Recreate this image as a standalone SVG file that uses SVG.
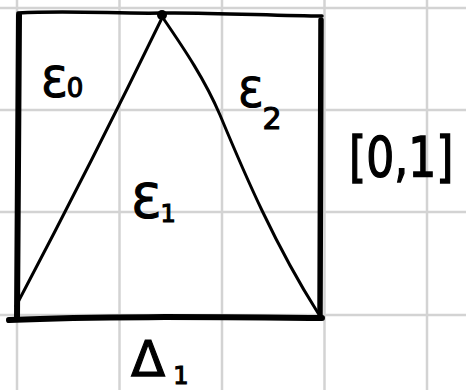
<svg xmlns="http://www.w3.org/2000/svg" width="466" height="390" viewBox="0 0 466 390">
<style>
.grid{stroke:#d3d3d3;stroke-width:2.5;fill:none}
.ink{stroke:#000;fill:none;stroke-linecap:round;stroke-linejoin:round}
.t{font-family:"DejaVu Sans","Liberation Sans",sans-serif;fill:#000;stroke:#000;stroke-width:1.2}
</style>
<rect width="466" height="390" fill="#fff"/>
<g id="grid" class="grid">
<line x1="17" y1="0" x2="17" y2="390"/>
<line x1="119.5" y1="0" x2="119.5" y2="390"/>
<line x1="222" y1="0" x2="222" y2="390"/>
<line x1="324.5" y1="0" x2="324.5" y2="390"/>
<line x1="427" y1="0" x2="427" y2="390"/>
<line x1="0" y1="8" x2="466" y2="8"/>
<line x1="0" y1="110" x2="466" y2="110"/>
<line x1="0" y1="212" x2="466" y2="212"/>
<line x1="0" y1="315" x2="466" y2="315"/>
</g>
<g id="square" class="ink">
<path d="M18,13 C70,10 120,14 162,13 S280,16 322,16" stroke-width="3.5"/>
<path d="M19,15 L17,318" stroke-width="6"/>
<path d="M321,20 L320,316" stroke-width="5.5"/>
<path d="M9,320 C100,316 200,317 322,318" stroke-width="6"/>
</g>
<g id="connectors" class="ink" stroke-width="3">
<path d="M162,18 Q94,158 16,306"/>
<path d="M163,18 C185,50 205,80 220,115 C245,175 275,245 318,313"/>
</g>
<g id="apex"><circle cx="162" cy="15" r="5" fill="#000"/></g>
<g id="E0"><text class="t" x="41" y="97" font-size="42">Ɛ<tspan font-size="26">0</tspan></text></g>
<g id="E2"><text class="t" x="238" y="107" font-size="40">Ɛ<tspan font-size="30" dy="22">2</tspan></text></g>
<g id="E1"><text class="t" x="131" y="218" font-size="48">Ɛ<tspan font-size="24" dy="4">1</tspan></text></g>
<g id="interval"><text class="t" transform="translate(349,176) scale(1,1.25)" font-size="44">[0,1]</text></g>
<g id="D1"><text class="t" x="131" y="376" font-size="50">Δ<tspan font-size="24" dy="8" dx="8">1</tspan></text></g>
</svg>
